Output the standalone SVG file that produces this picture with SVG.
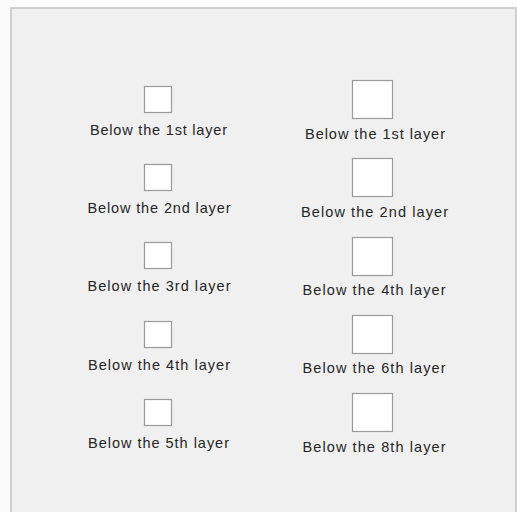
<svg xmlns="http://www.w3.org/2000/svg" width="517" height="512" viewBox="0 0 517 512">
<style>
.bg{fill:#fbfbfb}
.panel{fill:#f0f0f0;stroke:#c4c4c4;stroke-width:1.5}
.box{fill:#ffffff;stroke:#9a9a9a;stroke-width:1.2}
.lbl{font-family:"Liberation Sans",Arial,sans-serif;font-size:14.5px;fill:#262626;text-anchor:middle}
</style>
<rect class="bg" x="0" y="0" width="517" height="512"/>
<rect class="panel" x="11" y="8" width="505" height="510"/>
<g id="left">
<g id="l1"><rect class="box" x="144.5" y="86.5" width="27" height="26"/><text class="lbl" x="158.5" y="135" textLength="137" lengthAdjust="spacing">Below the 1st layer</text></g>
<g id="l2"><rect class="box" x="144.5" y="164.5" width="27" height="26"/><text class="lbl" x="159" y="213" textLength="143" lengthAdjust="spacing">Below the 2nd layer</text></g>
<g id="l3"><rect class="box" x="144.5" y="242.5" width="27" height="26"/><text class="lbl" x="159" y="291" textLength="143" lengthAdjust="spacing">Below the 3rd layer</text></g>
<g id="l4"><rect class="box" x="144.5" y="321.5" width="27" height="26"/><text class="lbl" x="159" y="370" textLength="142" lengthAdjust="spacing">Below the 4th layer</text></g>
<g id="l5"><rect class="box" x="144.5" y="399.5" width="27" height="26"/><text class="lbl" x="158.5" y="448" textLength="141" lengthAdjust="spacing">Below the 5th layer</text></g>
</g>
<g id="right">
<g id="r1"><rect class="box" x="352.5" y="80.5" width="40" height="38"/><text class="lbl" x="375" y="138.5" textLength="140" lengthAdjust="spacing">Below the 1st layer</text></g>
<g id="r2"><rect class="box" x="352.5" y="158.5" width="40" height="38"/><text class="lbl" x="374.5" y="216.5" textLength="147" lengthAdjust="spacing">Below the 2nd layer</text></g>
<g id="r3"><rect class="box" x="352.5" y="237.5" width="40" height="38"/><text class="lbl" x="374" y="294.5" textLength="143" lengthAdjust="spacing">Below the 4th layer</text></g>
<g id="r4"><rect class="box" x="352.5" y="315.5" width="40" height="38"/><text class="lbl" x="374" y="373" textLength="143" lengthAdjust="spacing">Below the 6th layer</text></g>
<g id="r5"><rect class="box" x="352.5" y="393.5" width="40" height="38"/><text class="lbl" x="374" y="451.5" textLength="143" lengthAdjust="spacing">Below the 8th layer</text></g>
</g>
<g id="connectors"/>
</svg>
